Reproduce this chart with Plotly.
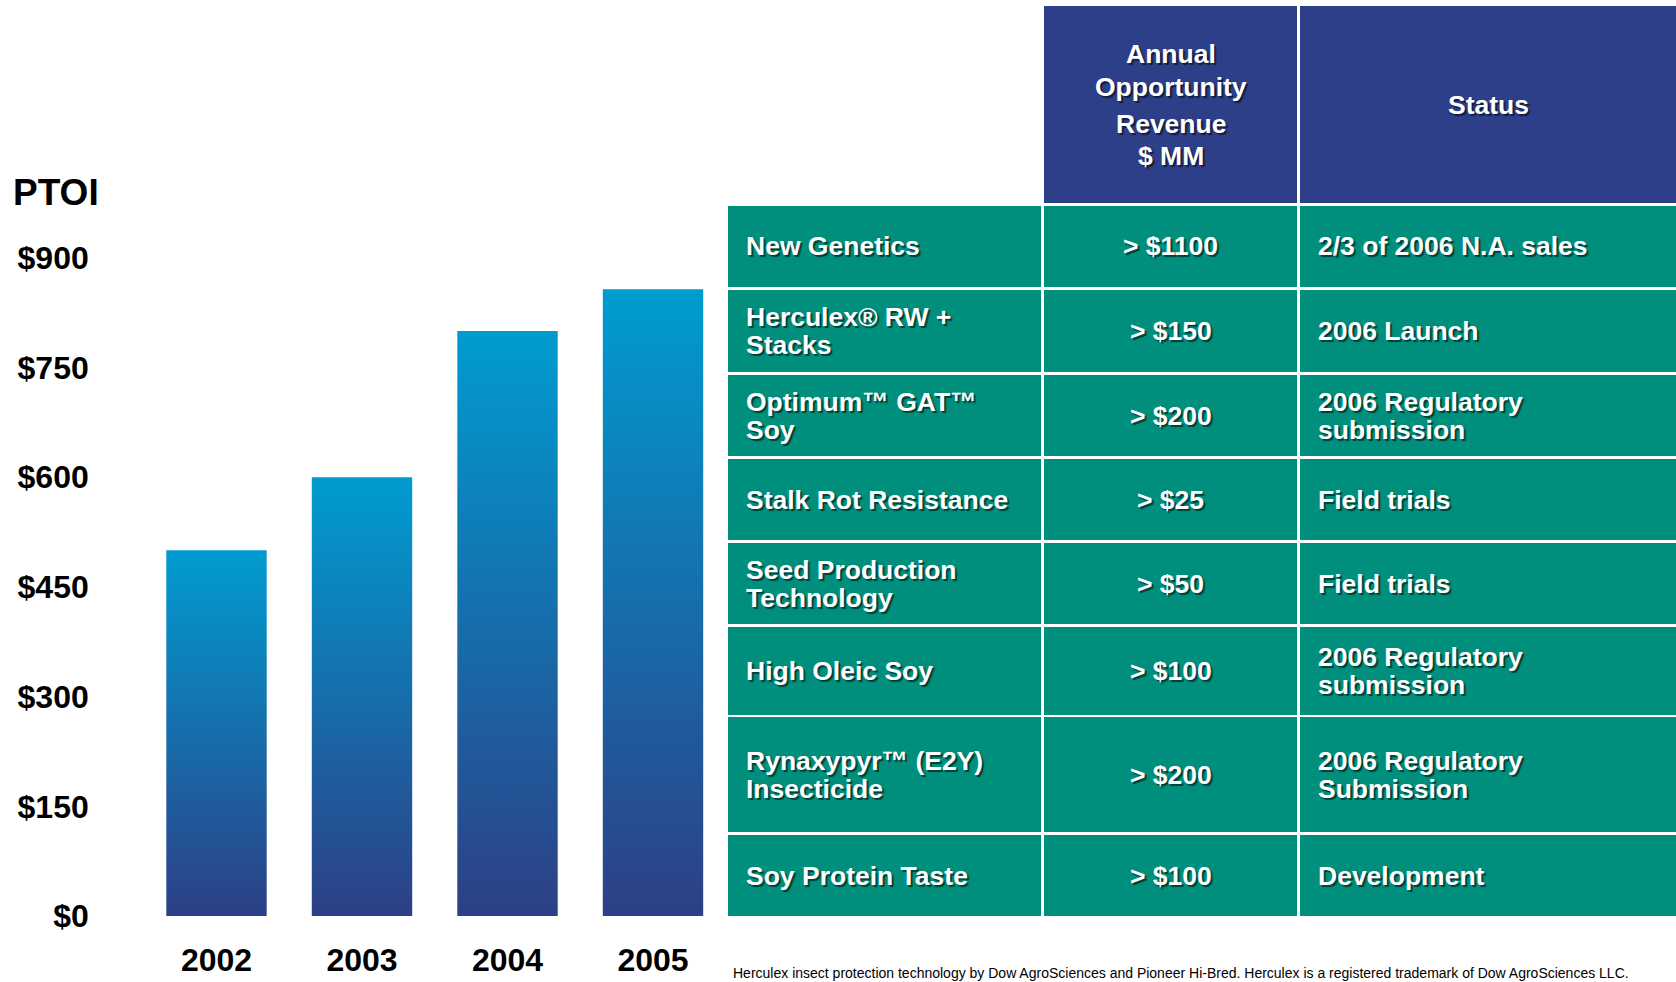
import plotly.graph_objects as go

# ---------------- data ----------------
years = ["2002", "2003", "2004", "2005"]
ptoi = [500, 600, 800, 857]
ptoi_ticks = [0, 150, 300, 450, 600, 750, 900]
ptoi_tick_labels = ["$0", "$150", "$300", "$450", "$600", "$750", "$900"]

header_revenue = ["Annual", "Opportunity", "Revenue", "$ MM"]
header_status = "Status"
programs = [
    "New Genetics",
    "Herculex® RW +<br>Stacks",
    "Optimum™ GAT™<br>Soy",
    "Stalk Rot Resistance",
    "Seed Production<br>Technology",
    "High Oleic Soy",
    "Rynaxypyr™ (E2Y)<br>Insecticide",
    "Soy Protein Taste",
]
revenue = ["> $1100", "> $150", "> $200", "> $25", "> $50", "> $100", "> $200", "> $100"]
status = [
    "2/3 of 2006 N.A. sales",
    "2006 Launch",
    "2006 Regulatory<br>submission",
    "Field trials",
    "Field trials",
    "2006 Regulatory<br>submission",
    "2006 Regulatory<br>Submission",
    "Development",
]
footnote = ("Herculex insect protection technology by Dow AgroSciences and Pioneer Hi-Bred. "
            "Herculex is a registered trademark of Dow AgroSciences LLC.")

# ---------------- layout / style constants ----------------
W, H = 1676, 982
FONT = "Liberation Sans, Arial, sans-serif"
BAR_TOP = "#009CD0"
BAR_BOTTOM = "#2D3F86"
NAVY = "#2C3F88"
TEAL = "#008F7C"
BAR_WIDTH = 0.69
SHADOW = "2px 2px 1px rgba(0,0,0,0.55)"
TABLE_FONT = 26.5
TICK_FONT = 32

COLS = [(728, 1041), (1044, 1297), (1300, 1676)]
HEADER_Y = (6, 203)
HEADER_LINE_OFFSETS = [-50, -18, 19, 51]
ROWS = [(206, 287), (290, 372), (375, 456), (459, 540),
        (543, 624), (627, 715), (717, 832), (835, 916)]
LINE_GAP = 28
PAD_X = 16


def px(x):
    return x / W


def py(y):
    return 1 - y / H


fig = go.Figure()

# gradient bars, one trace per year (each bar has its own gradient)
for i, (yr, v) in enumerate(zip(years, ptoi)):
    x0, x1 = i - BAR_WIDTH / 2, i + BAR_WIDTH / 2
    fig.add_trace(go.Scatter(
        x=[x0, x1, x1, x0, x0], y=[0, 0, v, v, 0],
        mode="lines", fill="toself",
        fillgradient=dict(type="vertical",
                          colorscale=[[0, BAR_BOTTOM], [1, BAR_TOP]]),
        line=dict(width=0, color=BAR_TOP),
        name=yr, showlegend=False, hoverinfo="skip",
    ))

shapes = []
annotations = []


def cell(x0, x1, y0, y1, color):
    shapes.append(dict(type="rect", xref="paper", yref="paper",
                       x0=px(x0), x1=px(x1), y0=py(y1), y1=py(y0),
                       fillcolor=color, line=dict(width=0), layer="below"))


def text_lines(txt, x, xanchor, ycenter, size=TABLE_FONT, gap=LINE_GAP, offsets=None):
    lines = txt.split("<br>") if isinstance(txt, str) else txt
    n = len(lines)
    for k, ln in enumerate(lines):
        if offsets is not None:
            yy = ycenter + offsets[k]
        else:
            yy = ycenter + (k - (n - 1) / 2) * gap
        annotations.append(dict(
            text=ln, xref="paper", yref="paper", x=px(x), y=py(yy),
            xanchor=xanchor, yanchor="middle", showarrow=False,
            font=dict(family=FONT, size=size, color="white", weight="bold",
                      shadow=SHADOW)))


# header row
cell(COLS[1][0], COLS[1][1], HEADER_Y[0], HEADER_Y[1], NAVY)
cell(COLS[2][0], COLS[2][1], HEADER_Y[0], HEADER_Y[1], NAVY)
hc = (HEADER_Y[0] + HEADER_Y[1]) / 2
text_lines(header_revenue, (COLS[1][0] + COLS[1][1]) / 2, "center", hc,
           offsets=HEADER_LINE_OFFSETS)
text_lines(header_status, (COLS[2][0] + COLS[2][1]) / 2, "center", hc)

# body rows
for (y0, y1), prog, rev, st in zip(ROWS, programs, revenue, status):
    for c0, c1 in COLS:
        cell(c0, c1, y0, y1, TEAL)
    yc = (y0 + y1) / 2
    text_lines(prog, COLS[0][0] + PAD_X, "left", yc)
    text_lines(rev, (COLS[1][0] + COLS[1][1]) / 2, "center", yc)
    text_lines(st, COLS[2][0] + PAD_X, "left", yc)

# PTOI title
annotations.append(dict(
    text="PTOI", xref="paper", yref="paper", x=px(11), y=py(193),
    xanchor="left", yanchor="middle", showarrow=False,
    font=dict(family=FONT, size=37, color="black", weight="bold")))

# footnote, kept just inside the bottom edge
annotations.append(dict(
    text=footnote, xref="paper", yref="paper", x=px(732), y=0,
    xanchor="left", yanchor="bottom", showarrow=False, borderpad=0,
    font=dict(family=FONT, size=14, color="black")))

Y_MAX = 1200
fig.update_layout(
    width=W, height=H,
    margin=dict(l=0, r=0, t=0, b=0, autoexpand=False),
    paper_bgcolor="white", plot_bgcolor="white",
    shapes=shapes, annotations=annotations,
    xaxis=dict(domain=[143.75 / W, 725.75 / W], range=[-0.5, 3.5],
               tickvals=list(range(len(years))), ticktext=years,
               tickfont=dict(family=FONT, size=TICK_FONT, color="black", weight="bold"),
               showgrid=False, zeroline=False, showline=False, ticks="",
               ticklabelstandoff=22, automargin=False, fixedrange=True),
    yaxis=dict(domain=[(H - 916) / H, (H - 38.4) / H], range=[0, Y_MAX],
               tickvals=ptoi_ticks, ticktext=ptoi_tick_labels,
               tickfont=dict(family=FONT, size=TICK_FONT, color="black", weight="bold"),
               showgrid=False, zeroline=False, showline=False, ticks="",
               ticklabelstandoff=54, automargin=False, fixedrange=True),
)

post = """
var s = document.documentElement.style, b = document.body.style;
s.margin='0'; s.padding='0'; b.margin='0'; b.padding='0';
s.overflow='hidden'; b.overflow='hidden';
"""

fig.write_html("out.html", config={"displayModeBar": False}, post_script=post)
